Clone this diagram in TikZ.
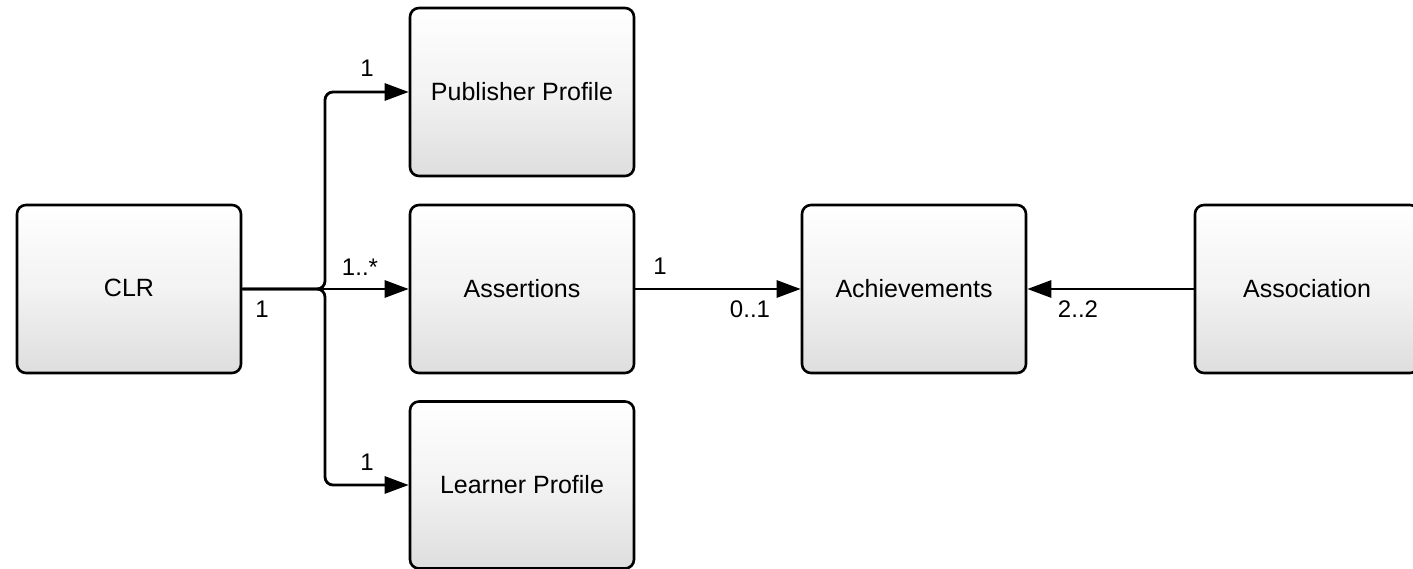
\documentclass[tikz,border=0pt]{standalone}
\usepackage{fontspec}
\setmainfont{Liberation Sans}
\usetikzlibrary{arrows.meta}
\begin{document}
\begin{tikzpicture}[x=1pt,y=-1pt,
  box/.style={draw=black, line width=2.6pt, rounded corners=9pt, minimum width=224pt, minimum height=168pt, inner sep=0pt,
    top color=white, bottom color=black!13, middle color=black!5, font=\fontsize{25}{30}\selectfont},
  conn/.style={line width=2.8pt, rounded corners=8pt, -{Triangle[length=24pt,width=17pt]}},
  lbl/.style={font=\fontsize{24}{28}\selectfont, inner sep=0pt}]
\useasboundingbox (0,0) rectangle (1413,569);
\clip (0,0) rectangle (1413,569);
\node[box] (clr) at (129,289) {\raisebox{2pt}{CLR}};
\node[box] (pub) at (522,92) {\raisebox{2pt}{Publisher Profile}};
\node[box] (ass) at (522,289) {\raisebox{2pt}{Assertions}};
\node[box, minimum height=167pt] (lrn) at (522,485) {\raisebox{2pt}{Learner Profile}};
\node[box] (ach) at (914,289) {\raisebox{2pt}{Achievements}};
\node[box] (asc) at (1307,289) {\raisebox{2pt}{Association}};
\coordinate (j) at (325,289);
\draw[conn] (clr.east) -- (j) |- (pub.west);
\draw[conn] (clr.east) -- (ass.west);
\draw[conn] (clr.east) -- (j) |- (lrn.west);
\draw[conn] (ass.east) -- (ach.west);
\draw[conn] (asc.west) -- (ach.east);
\node[lbl] (l1) at (367,68) {1};
\node[lbl] (l2) at (360,267) {1..*};
\node[lbl] (l3) at (262,309) {1};
\node[lbl] (l4) at (367,462) {1};
\node[lbl] (l5) at (660,266) {1};
\node[lbl] (l6) at (750,309) {0..1};
\node[lbl] (l7) at (1078,309) {2..2};
\end{tikzpicture}
\end{document}
